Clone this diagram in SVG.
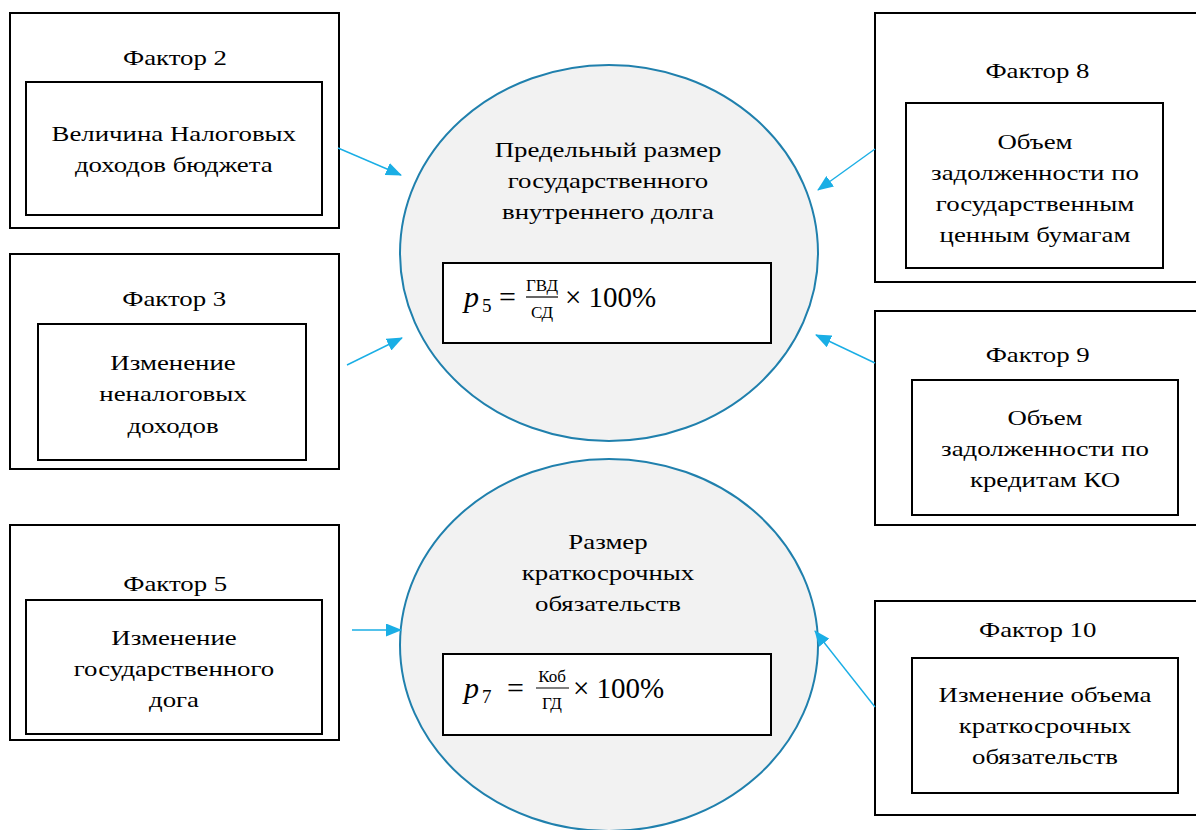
<svg xmlns="http://www.w3.org/2000/svg" width="1196" height="830" viewBox="0 0 1196 830">
<style>
.box{fill:#fff;stroke:#000;stroke-width:2}
.ell{fill:#f2f2f2;stroke:#2080ad;stroke-width:2}
.t{font-family:'Liberation Serif','Times New Roman','DejaVu Serif',serif;font-size:22px;fill:#000;text-anchor:middle}
.m{font-family:'Liberation Serif','Times New Roman','DejaVu Serif',serif;fill:#000}
.con{stroke:#1aaee5;stroke-width:1.4;fill:none;marker-end:url(#ah)}
</style>
<defs>
<marker id="ah" markerWidth="16" markerHeight="13" refX="15" refY="6.5" orient="auto" markerUnits="userSpaceOnUse" viewBox="0 0 16 13">
<path d="M0,0 L16,6.5 L0,13 z" fill="#1aaee5"/>
</marker>
</defs>
<rect width="1196" height="830" fill="#fff"/>

<g id="factor2">
<rect class="box" x="10" y="13" width="329" height="215"/>
<rect class="box" x="26" y="82" width="296" height="133"/>
<g transform="translate(175 0) scale(1.22 1)">
<text class="t" x="0" y="65">Фактор 2</text>
<text class="t" x="-1" y="141">Величина Налоговых</text>
<text class="t" x="-1" y="172">доходов бюджета</text>
</g>
</g>

<g id="factor3">
<rect class="box" x="10" y="254" width="329" height="215"/>
<rect class="box" x="38" y="324" width="268" height="136"/>
<g transform="translate(173 0) scale(1.22 1)">
<text class="t" x="1" y="306">Фактор 3</text>
<text class="t" x="0" y="370">Изменение</text>
<text class="t" x="0" y="401">неналоговых</text>
<text class="t" x="0" y="433">доходов</text>
</g>
</g>

<g id="factor5">
<rect class="box" x="10" y="525" width="329" height="215"/>
<rect class="box" x="26" y="600" width="296" height="134"/>
<g transform="translate(174 0) scale(1.22 1)">
<text class="t" x="1" y="591">Фактор 5</text>
<text class="t" x="0" y="645">Изменение</text>
<text class="t" x="0" y="676">государственного</text>
<text class="t" x="0" y="707">дога</text>
</g>
</g>

<g id="factor8">
<rect class="box" x="875" y="13" width="330" height="269"/>
<rect class="box" x="906" y="103" width="257" height="165"/>
<g transform="translate(1035 0) scale(1.22 1)">
<text class="t" x="2" y="78">Фактор 8</text>
<text class="t" x="0" y="149">Объем</text>
<text class="t" x="0" y="180">задолженности по</text>
<text class="t" x="0" y="211">государственным</text>
<text class="t" x="0" y="242">ценным бумагам</text>
</g>
</g>

<g id="factor9">
<rect class="box" x="875" y="311" width="330" height="214"/>
<rect class="box" x="912" y="380" width="266" height="135"/>
<g transform="translate(1045 0) scale(1.22 1)">
<text class="t" x="-6" y="362">Фактор 9</text>
<text class="t" x="0" y="425">Объем</text>
<text class="t" x="0" y="456">задолженности по</text>
<text class="t" x="0" y="487">кредитам КО</text>
</g>
</g>

<g id="factor10">
<rect class="box" x="875" y="601" width="330" height="214"/>
<rect class="box" x="912" y="658" width="266" height="135"/>
<g transform="translate(1045 0) scale(1.22 1)">
<text class="t" x="-6" y="637">Фактор 10</text>
<text class="t" x="0" y="702">Изменение объема</text>
<text class="t" x="0" y="733">краткосрочных</text>
<text class="t" x="0" y="764">обязательств</text>
</g>
</g>

<g id="limit-debt">
<ellipse class="ell" cx="609" cy="253" rx="209" ry="188"/>
<g transform="translate(608 0) scale(1.22 1)">
<text class="t" x="0" y="157">Предельный размер</text>
<text class="t" x="0" y="188">государственного</text>
<text class="t" x="0" y="219">внутреннего долга</text>
</g>
<rect class="box" x="443" y="263" width="328" height="80"/>
<text class="m" x="464" y="307" font-size="30" font-style="italic">p</text>
<text class="m" x="482" y="312" font-size="19">5</text>
<text class="m" x="499" y="307" font-size="30">=</text>
<text class="m" x="542" y="291" font-size="17" text-anchor="middle">ГВД</text>
<line x1="526" y1="297" x2="558" y2="297" stroke="#000" stroke-width="1.2"/>
<text class="m" x="542" y="318" font-size="17" text-anchor="middle">СД</text>
<text class="m" x="565" y="307" font-size="29">× 100%</text>
</g>

<g id="short-term">
<ellipse class="ell" cx="609" cy="645" rx="209" ry="186"/>
<g transform="translate(608 0) scale(1.22 1)">
<text class="t" x="0" y="549">Размер</text>
<text class="t" x="0" y="580">краткосрочных</text>
<text class="t" x="0" y="611">обязательств</text>
</g>
<rect class="box" x="443" y="654" width="328" height="81"/>
<text class="m" x="464" y="698" font-size="30" font-style="italic">p</text>
<text class="m" x="482" y="703" font-size="19">7</text>
<text class="m" x="507" y="698" font-size="30">=</text>
<text class="m" x="552" y="682" font-size="17" text-anchor="middle">Коб</text>
<line x1="536" y1="688" x2="569" y2="688" stroke="#000" stroke-width="1.2"/>
<text class="m" x="552" y="709" font-size="17" text-anchor="middle">ГД</text>
<text class="m" x="573" y="698" font-size="29">× 100%</text>
</g>

<g id="connectors">
<line class="con" x1="338" y1="148" x2="401" y2="175"/>
<line class="con" x1="347" y1="365" x2="402" y2="338"/>
<line class="con" x1="352" y1="630" x2="401" y2="630"/>
<line class="con" x1="875" y1="149" x2="818" y2="190"/>
<line class="con" x1="875" y1="363" x2="816" y2="335"/>
<line class="con" x1="875" y1="707" x2="815" y2="631"/>
</g>
</svg>
